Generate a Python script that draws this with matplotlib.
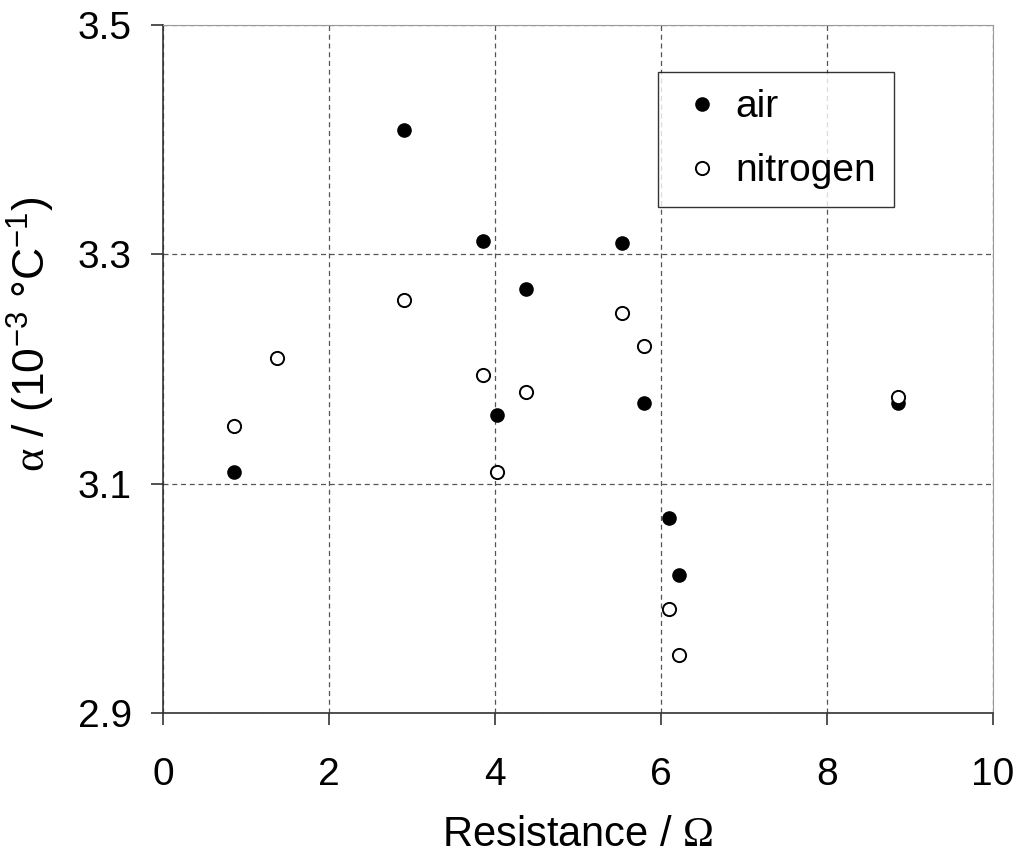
import matplotlib
matplotlib.use("Agg")
import matplotlib.pyplot as plt

plt.rcParams['font.family'] = ['Liberation Sans', 'DejaVu Sans']
plt.rcParams['mathtext.fontset'] = 'custom'
plt.rcParams['mathtext.rm'] = 'Liberation Sans'
plt.rcParams['mathtext.it'] = 'Liberation Sans:italic'
plt.rcParams['mathtext.sf'] = 'Liberation Serif'

resistance = [0.85, 2.9, 3.85, 4.37, 4.02, 5.53, 5.8, 6.1, 6.22, 8.85]
alpha_air = [3.11, 3.408, 3.312, 3.27, 3.16, 3.31, 3.17, 3.07, 3.02, 3.17]

resistance_n2 = [0.85, 1.37, 2.9, 3.85, 4.37, 4.02, 5.53, 5.8, 6.1, 6.22, 8.85]
alpha_n2 = [3.15, 3.21, 3.26, 3.195, 3.18, 3.11, 3.249, 3.22, 2.991, 2.951, 3.176]

x_ticks = [0, 2, 4, 6, 8, 10]
y_ticks = [2.9, 3.1, 3.3, 3.5]

fig = plt.figure(figsize=(10.21, 8.61), dpi=100)
ax = fig.add_axes([0.1597, 0.1719, 0.8129, 0.7991])

ax.plot(resistance, alpha_air, 'o', color='black', markersize=9.5, label='air', zorder=3)
ax.plot(resistance_n2, alpha_n2, 'o', markerfacecolor='white', markeredgecolor='black',
        markeredgewidth=1.4, markersize=9.5, label='nitrogen', zorder=3)

ax.set_xlim(0, 10)
ax.set_ylim(2.9, 3.5)
ax.set_xticks(x_ticks)
ax.set_yticks(y_ticks)
ax.set_yticklabels(['2.9', '3.1', '3.3', '3.5'])

ax.grid(True, color='#555555', linestyle=(0, (4, 3)), linewidth=0.9)
ax.set_axisbelow(True)

for side in ['top', 'right']:
    ax.spines[side].set_color('#999999')
for side in ['left', 'bottom']:
    ax.spines[side].set_color('#333333')
    ax.spines[side].set_linewidth(1.2)

ax.tick_params(direction='out', length=8.5, width=1.2, labelsize=28, color='#333333')
ax.tick_params(axis='x', pad=23)
ax.tick_params(axis='y', pad=14)

ax.set_xlabel('Resistance / $\\mathsf{Ω}$', fontsize=30, labelpad=16)
ax.set_ylabel('$\\mathsf{α}$ / (10$^{-3}$ °C$^{-1}$)', fontsize=32)
ax.yaxis.set_label_coords(-0.128, 0.55)

leg = ax.legend(loc='upper left', bbox_to_anchor=(0.596, 0.932), borderaxespad=0,
                fontsize=28, frameon=True, fancybox=False, edgecolor='black',
                handlelength=1.4, handletextpad=0.15, borderpad=0.45, labelspacing=0.72)
leg.get_frame().set_linewidth(1.0)

fig.savefig('out.png', dpi=100)
